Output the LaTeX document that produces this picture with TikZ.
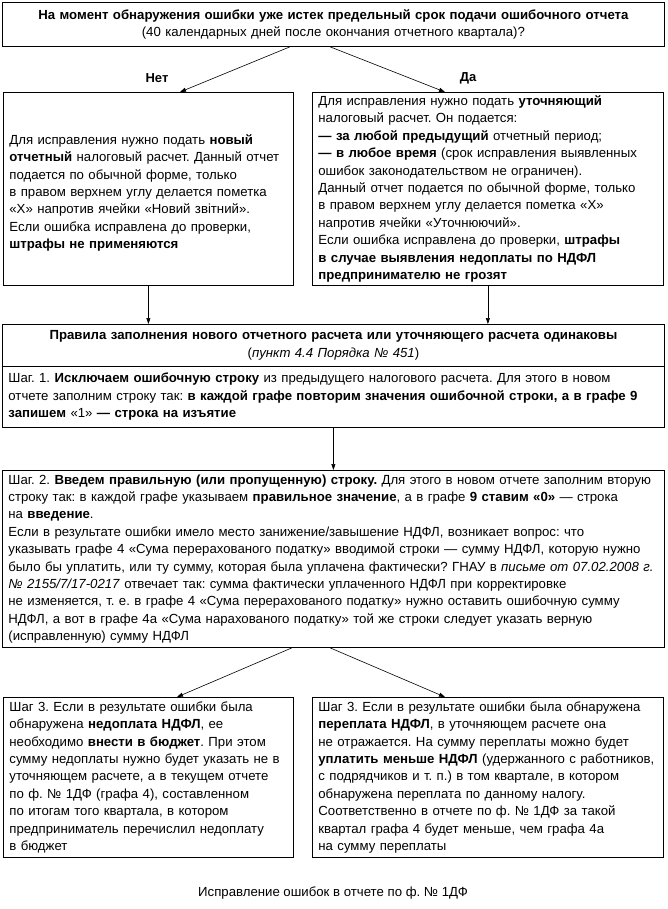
\documentclass[tikz,border=0pt]{standalone}
\usepackage{fontspec}
\setmainfont{Liberation Sans}
\usetikzlibrary{arrows.meta}
\frenchspacing
\begin{document}
\begin{tikzpicture}[x=1pt,y=1pt,
  txt/.style={font=\fontsize{13.2}{17.4}\selectfont},
  box/.style={txt, draw, line width=0.8pt, anchor=north west, inner xsep=6pt, inner ysep=0pt, align=left},
  arr/.style={line width=0.6pt, -{Triangle[length=6pt,width=4pt]}},
  lab/.style={font=\fontsize{13}{15}\selectfont\bfseries}]
\useasboundingbox (0,0) rectangle (667,-909);

\node[box, align=center, minimum width=662pt, text width=650pt, minimum height=44pt] (q) at (2,-2)
 {\textbf{На момент обнаружения ошибки уже истек предельный срок подачи ошибочного отчета}\\
 (40 календарных дней после окончания отчетного квартала)?};

\node[box, minimum width=290pt, text width=278pt, minimum height=193pt] (no) at (3,-92)
 {\rule{0pt}{18pt}Для исправления нужно подать \textbf{новый}\\
 \textbf{отчетный} налоговый расчет. Данный отчет\\
 подается по обычной форме, только\\
 в правом верхнем углу делается пометка\\
 «Х» напротив ячейки «Новий звітний».\\
 Если ошибка исправлена до проверки,\\
 \textbf{штрафы не применяются}};

\node[box, minimum width=351pt, text width=339pt, minimum height=193pt] (yes) at (312,-92)
 {Для исправления нужно подать \textbf{уточняющий}\\
 налоговый расчет. Он подается:\\
 \textbf{— за любой предыдущий} отчетный период;\\
 \textbf{— в любое время} (срок исправления выявленных\\
 ошибок законодательством не ограничен).\\
 Данный отчет подается по обычной форме, только\\
 в правом верхнем углу делается пометка «Х»\\
 напротив ячейки «Уточнюючий».\\
 Если ошибка исправлена до проверки, \textbf{штрафы}\\
 \textbf{в случае выявления недоплаты по НДФЛ}\\
 \textbf{предпринимателю не грозят}};

\node[lab] (nolab) at (157,-78) {Нет};
\node[lab] (yeslab) at (468,-78) {Да};

\node[box, align=center, minimum width=662pt, text width=650pt, minimum height=42pt] (rules) at (2,-324)
 {\textbf{Правила заполнения нового отчетного расчета или уточняющего расчета одинаковы}\\
 (\textit{пункт 4.4 Порядка № 451})};

\node[box, minimum width=662pt, text width=650pt, minimum height=61pt] (s1) at (2,-366)
 {Шаг. 1. \textbf{Исключаем ошибочную строку} из предыдущего налогового расчета. Для этого в новом\\
 отчете заполним строку так: \textbf{в каждой графе повторим значения ошибочной строки, а в графе 9}\\
 \textbf{запишем} «1» \textbf{— строка на изъятие}};

\node[box, minimum width=662pt, text width=650pt, minimum height=177pt] (s2) at (2,-470)
 {Шаг. 2. \textbf{Введем правильную (или пропущенную) строку.} Для этого в новом отчете заполним вторую\\
 строку так: в каждой графе указываем \textbf{правильное значение}, а в графе \textbf{9 ставим «0»} — строка\\
 на \textbf{введение}.\\
 Если в результате ошибки имело место занижение/завышение НДФЛ, возникает вопрос: что\\
 указывать графе 4 «Сума перерахованого податку» вводимой строки — сумму НДФЛ, которую нужно\\
 было бы уплатить, или ту сумму, которая была уплачена фактически? ГНАУ в \textit{письме от 07.02.2008 г.}\\
 \textit{№ 2155/7/17-0217} отвечает так: сумма фактически уплаченного НДФЛ при корректировке\\
 не изменяется, т. е. в графе 4 «Сума перерахованого податку» нужно оставить ошибочную сумму\\
 НДФЛ, а вот в графе 4а «Сума нарахованого податку» той же строки следует указать верную\\
 (исправленную) сумму НДФЛ};

\node[box, minimum width=290pt, text width=278pt, minimum height=160pt] (s3a) at (3,-697)
 {Шаг 3. Если в результате ошибки была\\
 обнаружена \textbf{недоплата НДФЛ}, ее\\
 необходимо \textbf{внести в бюджет}. При этом\\
 сумму недоплаты нужно будет указать не в\\
 уточняющем расчете, а в текущем отчете\\
 по ф. № 1ДФ (графа 4), составленном\\
 по итогам того квартала, в котором\\
 предприниматель перечислил недоплату\\
 в бюджет};

\node[box, minimum width=351pt, text width=339pt, minimum height=160pt] (s3b) at (312,-697)
 {Шаг 3. Если в результате ошибки была обнаружена\\
 \textbf{переплата НДФЛ}, в уточняющем расчете она\\
 не отражается. На сумму переплаты можно будет\\
 \textbf{уплатить меньше НДФЛ} (удержанного с работников,\\
 с подрядчиков и т. п.) в том квартале, в котором\\
 обнаружена переплата по данному налогу.\\
 Соответственно в отчете по ф. № 1ДФ за такой\\
 квартал графа 4 будет меньше, чем графа 4а\\
 на сумму переплаты};

\node[txt] (cap) at (333,-893) {Исправление ошибок в отчете по ф. № 1ДФ};

\draw[arr] ([xshift=288pt]q.south west) -- ([xshift=177pt]no.north west);
\draw[arr] ([xshift=328pt]q.south west) -- ([xshift=133pt]yes.north west);
\draw[arr] (no.south) -- (no.south |- rules.north);
\draw[arr] (yes.south) -- (yes.south |- rules.north);
\draw[arr] (s1.south) -- (s2.north);
\draw[arr] ([xshift=290pt]s2.south west) -- ([xshift=174pt]s3a.north west);
\draw[arr] ([xshift=328pt]s2.south west) -- ([xshift=133pt]s3b.north west);
\end{tikzpicture}
\end{document}
